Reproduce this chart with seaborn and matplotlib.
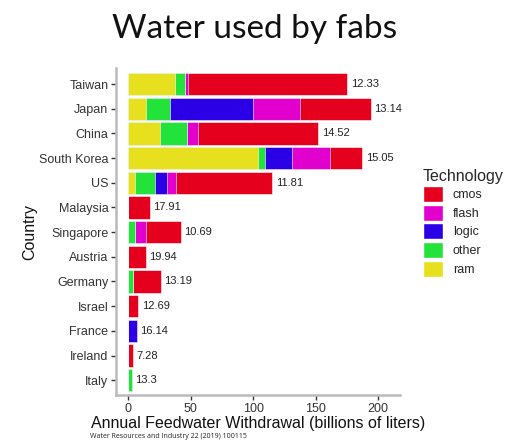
import numpy as np
import pandas as pd
import seaborn as sns
import matplotlib.pyplot as plt
from matplotlib.patches import Patch

# Values (billions of liters)
countries = ["Taiwan", "Japan", "China", "South Korea", "US", "Malaysia", "Singapore",
             "Austria", "Germany", "Israel", "France", "Ireland", "Italy"]
ram = [37, 14, 25, 104, 5, 0, 0, 0, 0, 0, 0, 0, 0]
other = [8, 19, 22, 5, 16, 0, 5, 0, 4, 0, 0, 0, 2.7]
logic = [0, 67, 0, 22, 10, 0, 0, 0, 0, 0, 6.7, 0, 0]
flash = [3, 37, 9, 30, 7, 0, 9, 0, 0, 0, 0, 0, 0]
cmos = [127, 57, 96, 26, 77, 17, 28, 14, 22, 8, 0, 3.5, 0]
labels = ["12.33", "13.14", "14.52", "15.05", "11.81", "17.91", "10.69",
          "19.94", "13.19", "12.69", "16.14", "7.28", "13.3"]

techs = ["ram", "other", "logic", "flash", "cmos"]
colors = {"cmos": "#E5001E", "flash": "#E200CF", "logic": "#2B00E6",
          "other": "#23E23A", "ram": "#E6E01E"}

df = pd.DataFrame({"Country": countries, "ram": ram, "other": other,
                   "logic": logic, "flash": flash, "cmos": cmos})
cum = df[techs].cumsum(axis=1)
df["total"] = cum["cmos"]

sns.set_theme(style="white")
plt.rcParams["font.family"] = ["Liberation Sans", "DejaVu Sans"]

fig = plt.figure(figsize=(5.05, 4.43), dpi=100)
ax = fig.add_axes([116 / 505, 48 / 443, 284 / 505, 327 / 443])

# draw cumulative layers, widest first, so segments stack
for t in reversed(techs):
    sns.barplot(x=cum[t], y=df["Country"], order=countries, orient="h",
                color=colors[t], width=0.9, edgecolor="white", linewidth=0.4,
                saturation=1, ax=ax)

for i, (tot, lab) in enumerate(zip(df["total"], labels)):
    ax.text(tot + 3, i, lab, va="center", ha="left", fontsize=8, color="#222222")

ax.set_xlim(-9.8, 217.4)
ax.set_ylim(12.6, -0.65)
ax.set_xticks([0, 50, 100, 150, 200])
ax.tick_params(axis="both", length=3.5, width=1, color="#333333", labelsize=9,
               labelcolor="#333333", pad=2)
ax.tick_params(axis="both", bottom=True, left=True)
for s in ["top", "right"]:
    ax.spines[s].set_visible(False)
for s in ["left", "bottom"]:
    ax.spines[s].set_color("#BBBBBB")
    ax.spines[s].set_linewidth(1.8)
ax.set_xlabel("Annual Feedwater Withdrawal (billions of liters)", fontsize=11.5,
              color="#111111", labelpad=1)
ax.set_ylabel("Country", fontsize=11.5, color="#111111", labelpad=1)

handles = [Patch(facecolor=colors[t], edgecolor="white", label=t)
           for t in ["cmos", "flash", "logic", "other", "ram"]]
leg = fig.legend(handles=handles, title="Technology", loc="upper left",
                 bbox_to_anchor=(414 / 505, 1 - 160 / 443), frameon=False,
                 fontsize=9, title_fontsize=11.5, handlelength=1.6, handleheight=1.6,
                 handletextpad=0.8, labelspacing=0.2, borderpad=0.2)
leg._legend_box.align = "left"

fig.text(255 / 505, 1 - 29 / 443, "Water used by fabs", ha="center", va="center",
         fontsize=24, family=["Lato", "DejaVu Sans"], color="#111111")
fig.text(90 / 505, 1 - 437 / 443, "Water Resources and Industry 22 (2019) 100115",
         ha="left", va="center", fontsize=5, family=["Open Sans", "DejaVu Sans"],
         color="#222222")

fig.savefig("out.png", dpi=100)
